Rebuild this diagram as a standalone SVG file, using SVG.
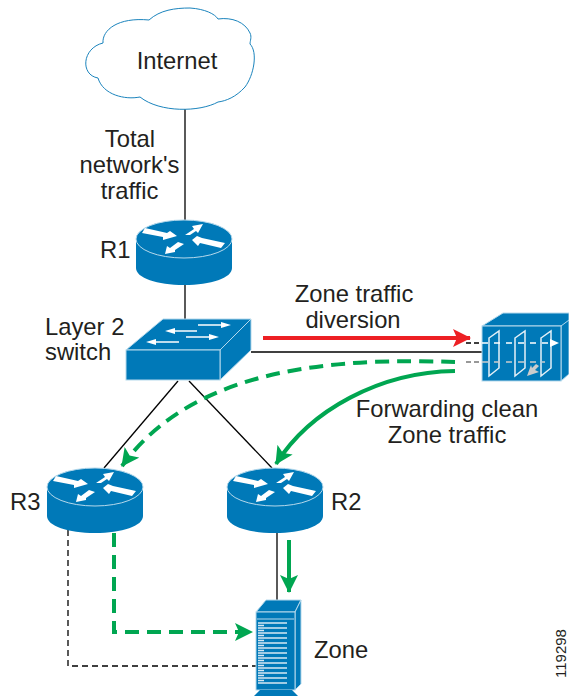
<svg xmlns="http://www.w3.org/2000/svg" width="569" height="696" viewBox="0 0 569 696">
<style>
text{font-family:"Liberation Sans",Arial,sans-serif;font-size:23.800px;fill:#231f20}
.l{fill:none;stroke:#000;stroke-width:1.3}
.d{fill:none;stroke:#000;stroke-width:1.3;stroke-dasharray:6 4}
.g{fill:none;stroke:#00a651;stroke-width:4}
.gd{fill:none;stroke:#00a651;stroke-width:4;stroke-dasharray:14 8}
.b{fill:#0079b8;stroke:#b5d9ec;stroke-width:1}
.w{fill:#fff}
.wl{stroke:#fff;stroke-width:1.5;fill:none}
</style>
<defs>
<marker id="ag" markerUnits="userSpaceOnUse" markerWidth="20" markerHeight="18" refX="17" refY="9" orient="auto"><path d="M0 0L18 9L0 18L4 9Z" fill="#00a651"/></marker>
<marker id="ar" markerUnits="userSpaceOnUse" markerWidth="20" markerHeight="18" refX="17" refY="9" orient="auto"><path d="M0 0L18 9L0 18L4 9Z" fill="#ed2024"/></marker>
<g id="router">
<path d="M-48 0V29C-48 39-27 46 0 46S48 39 48 29V0Z" fill="#0079b8"/>
<ellipse cx="0" cy="0" rx="48" ry="19" fill="#0079b8" stroke="#b5d9ec" stroke-width="1"/>
<path class="w" d="M-42-6L-39-11L-17-6L-14-8L-7-3L-21 1L-21-2Z"/>
<path class="w" d="M1-4L10-10L8-13L19-15L14-6L12-8L6-4Z"/>
<path class="w" d="M41 4L37 9L16 4L14 7L8 1L13-3L18-1Z"/>
<path class="w" d="M-6 3L0 5L-9 11L-9 13L-19 15L-17 7L-14 9Z"/>
</g>
</defs>

<g id="connectors">
<path class="l" d="M185 96V221"/>
<path class="l" d="M185 285V320"/>
<path class="l" d="M178 381L104 468"/>
<path class="l" d="M189 381L272 468"/>
<path class="l" d="M251 352H482"/>
<path class="l" d="M277 533V600"/>
<path class="d" d="M68 530V666H256"/>
<path d="M466 343H482" stroke="#000" stroke-width="1.5" stroke-dasharray="5 3"/>
<path d="M466 362H482" stroke="#777" stroke-width="1.5" stroke-dasharray="5 3"/>
<path class="gd" d="M455 362C340 358 195 365 122 466" marker-end="url(#ag)"/>
<path class="g" d="M455 371C380 372 310 410 276 464" marker-end="url(#ag)"/>
<path d="M263 338H470" stroke="#ed2024" stroke-width="4" fill="none" marker-end="url(#ar)"/>
<path class="g" d="M289 540V592" marker-end="url(#ag)"/>
<path class="gd" d="M114 533V632H252" marker-end="url(#ag)"/>
</g>

<g id="internet">
<path d="M149 20C160 10 175 8 190 8C205 9 215 14 218 19C232 17 245 22 250 33C252 37 250 41 250 44C258 52 254 75 245 87C236 97 226 101 218 102C200 112 160 113 140 97C125 100 103 95 98 78C80 75 82 48 103 43C102 30 118 17 149 20Z" fill="#fff" stroke="#1b84bd" stroke-width="1"/>
<text x="177" y="69" text-anchor="middle">Internet</text>
</g>
<g id="r1"><use href="#router" x="184" y="239"/><text x="100" y="258">R1</text></g>

<g id="switch">
<path class="b" d="M126 350L163 319H251L220 350Z"/>
<path class="b" d="M220 350L251 319V350L220 380Z"/>
<rect class="b" x="126" y="350" width="94" height="30"/>
<g class="wl">
<path d="M198 325H228"/><path d="M197 331H170"/><path d="M186 337H216"/><path d="M179 342H151"/>
</g>
<path class="w" d="M231 325L221 322V328Z M165 331L175 328V334Z M219 337L209 334V340Z M146 342L156 339V345Z"/>
<text x="45" y="335">Layer 2</text><text x="45" y="360">switch</text>
</g>

<g id="firewall">
<path class="b" d="M482 326L503 313H569V326H561Z"/>
<path class="b" d="M561 326L569 320V374L561 381Z"/>
<rect class="b" x="482" y="326" width="79" height="55"/>
<g fill="none" stroke="#e4f0f7" stroke-width="1.500">
<path d="M489 338L499 331V368L489 376Z"/>
<path d="M515 338L525 331V368L515 376Z"/>
<path d="M541 338L551 331V368L541 376Z"/>
</g>
<path d="M482 343H548" stroke="#fff" stroke-width="1.5" stroke-dasharray="6 6" fill="none"/>
<path d="M482 362H545" stroke="#ccc" stroke-width="1.5" stroke-dasharray="6 6" fill="none"/>
<path class="w" d="M550 339L559 343L550 347Z"/>
<path d="M527 376L539 372L535 370L539 366L536 364L532 368L531 365Z" fill="#ccc"/>
</g>

<g id="r3"><use href="#router" x="95" y="487"/><text x="10" y="510">R3</text></g>
<g id="r2"><use href="#router" x="275" y="487"/><text x="331" y="510">R2</text></g>

<g id="zone">
<path class="b" d="M256 612L266 600H301L295 612Z"/>
<path class="b" d="M295 612L301 600V684L295 690Z"/>
<rect class="b" x="256" y="612" width="39" height="78"/>
<path d="M257 619H294" stroke="#b5d9ec" stroke-width="1"/>
<path d="M254 696L260 690H292L298 696Z" fill="#0079b8"/>
<g stroke="#d5e8f2" stroke-width="1.3" fill="none">
<path d="M258 623H287M258 628H287M258 633H287M258 638H287M258 643H287M258 648H287M258 653H287M258 658H287M258 663H287M258 668H287M258 673H287M258 678H287M258 683H287"/>
<path d="M258 625.500H264M258 630.500H264M258 635.500H264M258 640.500H264M258 645.500H264M258 650.500H264M258 655.500H264M258 660.500H264M258 665.500H264M258 670.500H264M258 675.500H264M258 680.500H264"/>
</g>
<text x="314" y="658">Zone</text>
</g>

<g id="labels">
<text x="130" y="147" text-anchor="middle">Total</text>
<text x="129.500" y="173" text-anchor="middle">network's</text>
<text x="129.500" y="199" text-anchor="middle">traffic</text>
<text x="354" y="302" text-anchor="middle">Zone traffic</text>
<text x="353" y="328" text-anchor="middle">diversion</text>
<text x="447" y="417" text-anchor="middle">Forwarding clean</text>
<text x="447" y="443" text-anchor="middle">Zone traffic</text>
<text transform="translate(566,678) rotate(-90)" style="font-size:15px">119298</text>
</g>
</svg>
